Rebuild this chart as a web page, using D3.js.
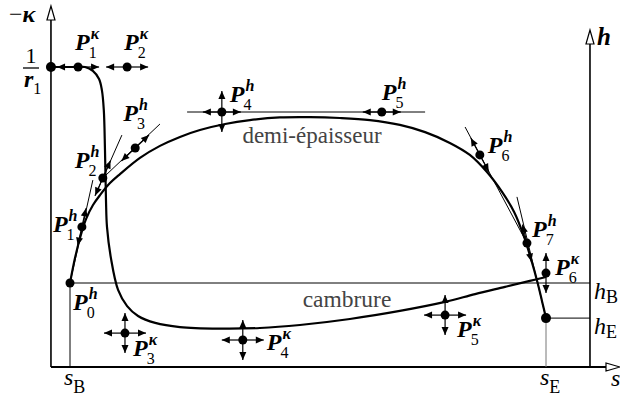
<!DOCTYPE html>
<html><head><meta charset="utf-8">
<script src="https://cdn.jsdelivr.net/npm/d3@7"></script>
<style>body{margin:0;background:#fff}svg{display:block}</style>
</head><body><svg id="c" width="620" height="398"></svg>
<script>
// ---------- DATA (s: abscissa, sB=0, sE=1 ; v: normalised ordinate, 1/r1 = 1) ----------
const kappaCurve = [[-0.04,1.0],[0,1.0],[0.0315,1.0],[0.048,0.987],[0.061,0.96],[0.067,0.923],[0.071,0.857],
  [0.0735,0.723],[0.0756,0.557],[0.0777,0.467],[0.086,0.363],[0.101,0.257],[0.12,0.203],[0.143,0.17],
  [0.179,0.147],[0.231,0.133],[0.315,0.128],[0.399,0.13],[0.483,0.14],[0.588,0.16],[0.693,0.187],
  [0.788,0.217],[0.851,0.243],[0.914,0.267],[0.966,0.287],[1.0,0.30]];
const thicknessCurve = [[0,0.28],[0.0105,0.363],[0.021,0.43],[0.0336,0.493],[0.0483,0.54],[0.063,0.573],
  [0.084,0.613],[0.105,0.643],[0.147,0.697],[0.189,0.737],[0.231,0.767],[0.273,0.79],[0.326,0.81],
  [0.378,0.823],[0.441,0.832],[0.504,0.833],[0.567,0.83],[0.63,0.823],[0.693,0.807],[0.746,0.783],
  [0.798,0.747],[0.84,0.707],[0.876,0.65],[0.908,0.583],[0.933,0.517],[0.952,0.443],[0.968,0.363],
  [0.983,0.277],[0.992,0.217],[1.0,0.163]];
const kappaStart = [-0.04, 1.0];
const kappaIds = ["1","2","3","4","5","6"];
const kappaS   = [0.017, 0.12, 0.1155, 0.363, 0.788, 1.0];
const kappaV   = [1.0, 1.0, 0.113, 0.09, 0.173, 0.313];
const kappaMoves = ["h","h","hv","hv","hv","v"];
const hIds = ["0","1","2","3","4","5","6","7"];
const hS   = [0, 0.025, 0.069, 0.137, 0.319, 0.655, 0.861, 0.96];
const hV   = [0.28, 0.467, 0.63, 0.73, 0.85, 0.85, 0.707, 0.413];
const hGuide = [-1, 0, 1, 2, 3, 3, 4, 5];
const guides = [[[0,0.28],[0.048,0.623]], [[0.0525,0.57],[0.109,0.773]], [[0.069,0.63],[0.189,0.81]],
  [[0.246,0.85],[0.746,0.85]], [[0.83,0.8],[0.96,0.413]], [[0.939,0.567],[1.0,0.163]]];
const hEnd = [1.0, 0.163];
const sTickNames = ["B","E"]; const sTickVals = [0, 1];
const hLevelNames = ["B","E"]; const hLevelVals = [0.28, 0.163];
const curveNames = ["demi-épaisseur","cambrure"];
const sRightAxis = 1.0924;

// ---------- DRAWING ----------
const svg = d3.select("#c");
const x = d3.scaleLinear().domain([0,1]).range([70,546]);
const y = d3.scaleLinear().domain([0,1]).range([367,67]);
const FAM = '"Liberation Serif"';

const g = svg.append("g");
function sty(sel,size,o){
  o=o||{};
  return sel.style("font-family",FAM).style("font-size",size+"px")
    .style("font-weight",o.b?"bold":"normal").style("font-style",o.i?"italic":"normal");
}
function txt(px,py,s,size,o){
  o=o||{};
  return sty(g.append("text").attr("x",px).attr("y",py),size,o)
    .attr("text-anchor",o.a||"start").attr("fill",o.c||"#000").text(s);
}
function hollowArrow(tx, ty, dir){
  let pts = dir==="up" ? [[tx,ty],[tx-4,ty+14],[tx+4,ty+14]] : [[tx,ty],[tx-14,ty-4],[tx-14,ty+4]];
  g.append("polygon").attr("points", pts.map(p=>p.join(",")).join(" "))
   .attr("fill","#fff").attr("stroke","#000").attr("stroke-width",1.2);
}
// axes
const xl = x(kappaStart[0]), xr = x(sRightAxis), yb = y(0);
g.append("line").attr("x1",xl).attr("y1",yb).attr("x2",xl).attr("y2",20).attr("stroke","#000").attr("stroke-width",1.6);
hollowArrow(xl, 6, "up");
g.append("line").attr("x1",xr).attr("y1",yb).attr("x2",xr).attr("y2",44).attr("stroke","#000").attr("stroke-width",1.6);
hollowArrow(xr, 30, "up");
g.append("line").attr("x1",xl).attr("y1",yb).attr("x2",606).attr("y2",yb).attr("stroke","#000").attr("stroke-width",2);
hollowArrow(620, yb, "right");

// reference thin lines
sTickVals.forEach((s,i)=>{
  const top = i===0 ? y(hLevelVals[0]) : y(hLevelVals[1]);
  g.append("line").attr("x1",x(s)).attr("x2",x(s)).attr("y1",top).attr("y2",yb)
   .attr("stroke", i===0?"#000":"#777").attr("stroke-width",1);
});
hLevelVals.forEach((v,i)=>{
  g.append("line").attr("x1", i===0?x(0):x(1)).attr("x2",xr).attr("y1",y(v)).attr("y2",y(v))
   .attr("stroke","#000").attr("stroke-width",1);
});

// guide lines (control polygon)
guides.forEach(gd=>{
  g.append("line").attr("x1",x(gd[0][0])).attr("y1",y(gd[0][1])).attr("x2",x(gd[1][0])).attr("y2",y(gd[1][1]))
   .attr("stroke","#000").attr("stroke-width",1);
});

// curves
const line = d3.line().x(d=>x(d[0])).y(d=>y(d[1])).curve(d3.curveCatmullRom.alpha(0.5));
g.append("path").attr("d",line(kappaCurve)).attr("fill","none").attr("stroke","#000").attr("stroke-width",2.2);
g.append("path").attr("d",line(thicknessCurve)).attr("fill","none").attr("stroke","#000").attr("stroke-width",2.2);

// arrows
function arrow(px,py,dx,dy,len){
  const tx=px+dx*len, ty=py+dy*len;
  g.append("line").attr("x1",px).attr("y1",py).attr("x2",tx).attr("y2",ty).attr("stroke","#000").attr("stroke-width",1.2);
  const bx=tx-dx*8, by=ty-dy*8, nx=-dy, ny=dx;
  g.append("polygon").attr("points",[[tx,ty],[bx+nx*3.5,by+ny*3.5],[bx-nx*3.5,by-ny*3.5]].map(p=>p.join(",")).join(" "))
   .attr("fill","#000");
}
function dot(px,py,r){ g.append("circle").attr("cx",px).attr("cy",py).attr("r",r||4.5).attr("fill","#000"); }

kappaIds.forEach((id,i)=>{
  const px=x(kappaS[i]), py=y(kappaV[i]), m=kappaMoves[i];
  if(m.includes("h")){ arrow(px,py,-1,0,21); arrow(px,py,1,0,21); }
  if(m.includes("v")){ arrow(px,py,0,-1,20); arrow(px,py,0,1,20); }
  dot(px,py);
});
hIds.forEach((id,i)=>{
  const px=x(hS[i]), py=y(hV[i]);
  const gi=hGuide[i];
  if(gi>=0){
    const gd=guides[gi];
    let dx=x(gd[1][0])-x(gd[0][0]), dy=y(gd[1][1])-y(gd[0][1]); const L=Math.hypot(dx,dy); dx/=L; dy/=L;
    arrow(px,py,dx,dy,19); arrow(px,py,-dx,-dy,19);
  }
  if(i===4){ arrow(px,py,0,-1,21); arrow(px,py,0,1,20); }
  dot(px,py);
});
dot(x(kappaStart[0]), y(kappaStart[1]), 5);
dot(x(hEnd[0]), y(hEnd[1]), 5);

// labels: P with subscript and superscript in one text element
function pLabel(px,py,sup,sub){
  const t = g.append("text").attr("x",px).attr("y",py);
  sty(t.append("tspan").text("P"),24,{b:1,i:1});
  sty(t.append("tspan").attr("dx",-1).attr("dy",8).text(sub),16);
  sty(t.append("tspan").attr("dx",-6).attr("dy",-19).text(sup),16,{b:1,i:1});
}
const kOff = [[-3,-17],[-3,-17],[8,23],[24,10],[12,22],[9,2]];
kappaIds.forEach((id,i)=>pLabel(x(kappaS[i])+kOff[i][0], y(kappaV[i])+kOff[i][1], "κ", id));
const hOff = [[3,27],[-29,5],[-28,-10],[-12,-27],[8,-10],[0,-12],[8,-2],[5,-6]];
hIds.forEach((id,i)=>pLabel(x(hS[i])+hOff[i][0], y(hV[i])+hOff[i][1], "h", id));

// axis labels
const tk = txt(9,22,"",24);
sty(tk.append("tspan").text("−"),24);
sty(tk.append("tspan").text("κ"),24,{b:1,i:1});
txt(31,63,"1",22,{a:"middle"});
g.append("line").attr("x1",23).attr("x2",39).attr("y1",68).attr("y2",68).attr("stroke","#000").attr("stroke-width",1.3);
const tr = g.append("text").attr("x",24).attr("y",87);
sty(tr.append("tspan").text("r"),24,{b:1,i:1});
sty(tr.append("tspan").attr("dy",7).text("1"),16);
txt(597,45,"h",25,{b:1,i:1});
txt(611,386,"s",24,{i:1});
sTickVals.forEach((s,i)=>{
  const t = g.append("text").attr("x",x(s)-6).attr("y",385);
  sty(t.append("tspan").text("s"),24,{i:1});
  sty(t.append("tspan").attr("dy",8).text(sTickNames[i]),18);
});
hLevelVals.forEach((v,i)=>{
  const t = g.append("text").attr("x",594).attr("y",y(v)+16);
  sty(t.append("tspan").text("h"),24,{i:1});
  sty(t.append("tspan").attr("dy",4).text(hLevelNames[i]),18);
});
txt(312,143,curveNames[0],23,{a:"middle",c:"#444"});
txt(347,307,curveNames[1],23.5,{a:"middle",c:"#444"});
</script></body></html>
